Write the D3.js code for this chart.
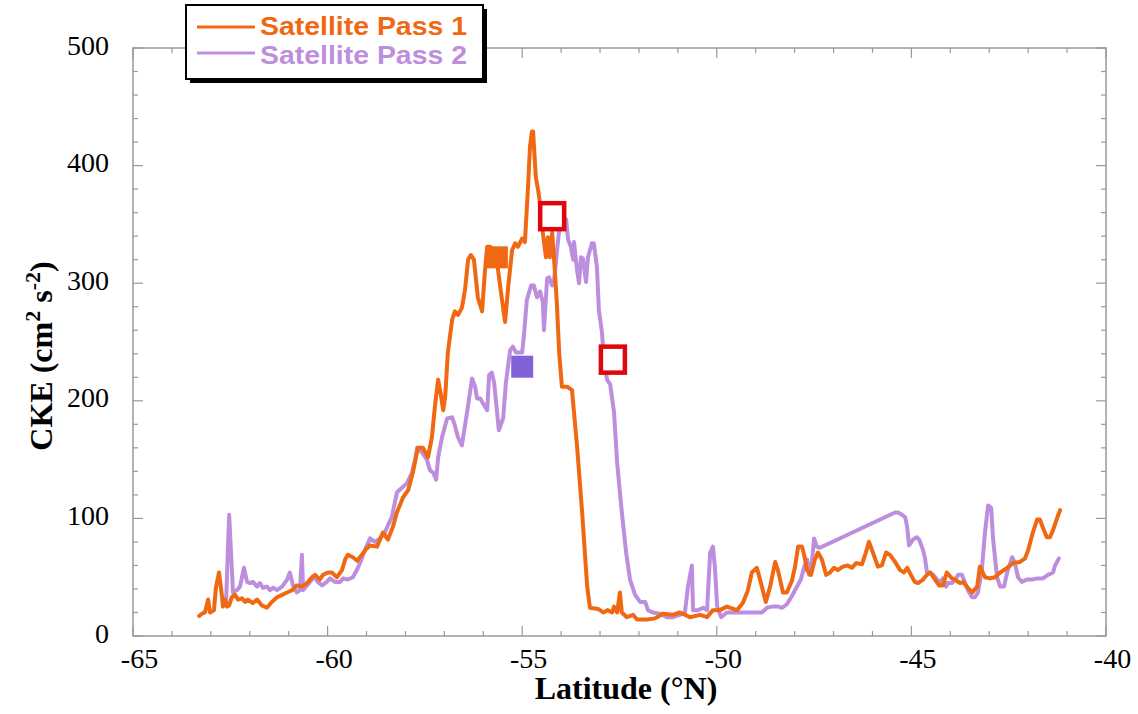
<!DOCTYPE html>
<html><head><meta charset="utf-8">
<script src="https://cdn.jsdelivr.net/npm/d3@7"></script>
<style>html,body{margin:0;padding:0;background:#fff;}svg{display:block;}</style>
</head><body>
<svg id="chart" width="1138" height="714"></svg>
<script>
// ---------- data ----------
const xTicks = [-65, -60, -55, -50, -45, -40];
const yTicks = [0, 100, 200, 300, 400, 500];
const seriesNames = ["Satellite Pass 1", "Satellite Pass 2"];

const pass1Lat = [-63.30,-63.23,-63.15,-63.07,-63.02,-62.92,-62.87,-62.79,-62.71,-62.69,-62.64,-62.58,-62.53,-62.46,-62.38,-62.30,-62.20,-62.12,-62.05,-61.92,-61.81,-61.69,-61.56,-61.43,-61.30,-61.17,-61.04,-60.91,-60.79,-60.66,-60.53,-60.40,-60.32,-60.20,-60.12,-59.99,-59.89,-59.76,-59.63,-59.55,-59.48,-59.35,-59.24,-59.12,-59.01,-58.91,-58.73,-58.58,-58.45,-58.32,-58.22,-58.06,-57.93,-57.81,-57.68,-57.55,-57.42,-57.32,-57.24,-57.16,-57.09,-57.03,-56.98,-56.91,-56.80,-56.73,-56.65,-56.55,-56.47,-56.39,-56.32,-56.24,-56.14,-56.03,-55.96,-55.90,-55.83,-55.70,-55.62,-55.52,-55.44,-55.36,-55.26,-55.18,-55.11,-55.00,-54.93,-54.85,-54.80,-54.75,-54.72,-54.65,-54.59,-54.49,-54.47,-54.39,-54.34,-54.29,-54.23,-54.18,-54.11,-54.05,-53.98,-53.85,-53.72,-53.59,-53.46,-53.33,-53.26,-53.05,-52.92,-52.80,-52.69,-52.64,-52.56,-52.49,-52.44,-52.31,-52.15,-52.05,-51.79,-51.59,-51.38,-51.13,-50.95,-50.69,-50.43,-50.25,-50.10,-49.92,-49.74,-49.48,-49.33,-49.20,-49.10,-48.97,-48.89,-48.74,-48.63,-48.50,-48.43,-48.30,-48.20,-48.07,-47.99,-47.91,-47.81,-47.73,-47.68,-47.58,-47.48,-47.40,-47.30,-47.19,-47.09,-46.99,-46.89,-46.76,-46.63,-46.53,-46.42,-46.27,-46.17,-46.09,-45.99,-45.86,-45.76,-45.65,-45.55,-45.42,-45.29,-45.19,-45.11,-44.98,-44.91,-44.83,-44.70,-44.60,-44.52,-44.39,-44.29,-44.19,-44.09,-43.96,-43.88,-43.75,-43.67,-43.55,-43.44,-43.31,-43.24,-43.11,-42.98,-42.85,-42.72,-42.54,-42.39,-42.21,-42.08,-42.00,-41.88,-41.77,-41.70,-41.62,-41.52,-41.44,-41.36,-41.26,-41.18];
const pass1CKE = [17,19,20,31,20,22,41,54,33,25,31,25,26,33,35,31,32,29,31,28,31,26,24,29,33,35,37,39,43,42,45,50,52,48,52,54,54,50,56,65,69,67,64,69,74,77,76,88,82,93,105,118,124,139,160,160,152,169,196,218,205,192,203,241,269,276,273,279,294,320,324,320,288,276,309,331,331,328,311,286,267,297,328,334,331,338,335,382,416,429,429,390,379,356,343,322,339,322,343,320,283,241,212,212,209,161,105,42,24,23,20,22,20,25,20,37,20,16,18,14,14,15,19,18,20,16,18,16,22,22,25,22,28,39,54,58,48,29,42,63,56,37,37,47,59,76,76,65,56,52,65,71,65,52,54,58,56,59,60,58,62,61,71,80,71,59,60,71,69,63,56,54,58,50,46,45,48,52,54,48,43,43,54,49,48,45,46,41,37,42,59,50,49,50,54,58,62,63,66,73,88,99,99,92,84,84,90,100,107];

const pass2Lat = [-62.61,-62.53,-62.43,-62.33,-62.25,-62.15,-62.07,-61.99,-61.92,-61.81,-61.74,-61.66,-61.56,-61.48,-61.40,-61.30,-61.17,-61.04,-60.97,-60.89,-60.79,-60.71,-60.66,-60.63,-60.53,-60.40,-60.32,-60.25,-60.14,-60.02,-59.94,-59.81,-59.68,-59.60,-59.48,-59.35,-59.22,-59.12,-59.04,-58.91,-58.78,-58.65,-58.53,-58.45,-58.35,-58.22,-58.09,-57.96,-57.83,-57.75,-57.70,-57.57,-57.45,-57.37,-57.29,-57.21,-57.16,-57.06,-56.93,-56.80,-56.73,-56.65,-56.55,-56.47,-56.39,-56.29,-56.21,-56.16,-56.08,-56.01,-55.90,-55.85,-55.78,-55.72,-55.65,-55.60,-55.49,-55.42,-55.31,-55.24,-55.16,-55.00,-54.95,-54.88,-54.77,-54.70,-54.62,-54.54,-54.47,-54.44,-54.36,-54.31,-54.23,-54.18,-54.11,-54.05,-53.95,-53.87,-53.82,-53.75,-53.69,-53.67,-53.59,-53.54,-53.49,-53.44,-53.36,-53.31,-53.21,-53.16,-53.08,-53.03,-52.95,-52.90,-52.82,-52.74,-52.64,-52.56,-52.44,-52.33,-52.23,-52.10,-51.97,-51.84,-51.77,-51.64,-51.46,-51.28,-51.13,-50.95,-50.82,-50.74,-50.64,-50.61,-50.48,-50.35,-50.25,-50.17,-50.10,-50.05,-49.99,-49.89,-49.74,-49.58,-49.40,-49.20,-49.02,-48.84,-48.71,-48.58,-48.43,-48.32,-48.20,-48.07,-47.94,-47.84,-47.76,-47.68,-47.63,-47.55,-47.50,-47.43,-47.35,-45.42,-45.34,-45.24,-45.16,-45.11,-45.06,-44.96,-44.86,-44.80,-44.70,-44.65,-44.60,-44.52,-44.44,-44.34,-44.26,-44.19,-44.11,-44.06,-43.96,-43.88,-43.80,-43.70,-43.62,-43.55,-43.44,-43.37,-43.29,-43.19,-43.11,-43.03,-42.95,-42.90,-42.80,-42.72,-42.62,-42.54,-42.41,-42.34,-42.26,-42.16,-42.03,-41.90,-41.77,-41.62,-41.49,-41.36,-41.31,-41.21];
const pass2CKE = [28,103,37,39,42,58,46,45,46,42,45,41,42,39,41,39,42,48,54,43,37,39,69,39,43,48,50,46,43,46,49,46,46,49,48,50,58,66,73,83,80,83,88,94,101,122,126,130,139,150,160,156,150,141,139,133,152,169,185,186,179,169,162,179,196,219,212,202,202,198,192,222,224,215,192,175,185,215,243,246,241,241,258,286,298,298,288,293,284,260,304,305,298,303,326,345,356,354,337,331,320,335,311,300,322,321,301,322,334,334,314,277,258,235,218,214,190,147,105,71,48,35,29,29,22,20,19,16,16,18,20,42,60,22,22,24,22,71,76,59,25,16,20,20,20,20,20,20,24,25,25,24,27,34,42,48,58,65,52,65,83,76,75,105,105,103,101,93,77,82,84,82,73,66,54,54,52,48,45,49,42,45,45,48,52,52,45,39,33,33,37,56,88,111,109,82,50,42,42,54,67,62,50,46,48,48,49,49,52,54,60,66];

// square markers: filled (one per pass) and open red ones
const filledLat = [-55.65, -55.00];
const filledCKE = [322, 229];
const filledColor = ["#f06812", "#8262d8"];
const openLat = [-54.23, -52.67];
const openCKE = [357, 235];

// ---------- layout ----------
const svg = d3.select("#chart");
const L = 133, R = 1106, T = 48, B = 636;
const x = d3.scaleLinear().domain([-65, -40]).range([L, R]);
const y = d3.scaleLinear().domain([0, 500]).range([B, T]);
const c1 = "#f06812", c2 = "#bd8edd", axisCol = "#999";

// frame
svg.append("rect").attr("x", L).attr("y", T).attr("width", R - L).attr("height", B - T)
  .attr("fill", "none").attr("stroke", axisCol).attr("stroke-width", 1.5);

const xMinor = d3.range(-65, -39.9, 1);
const yMinor = d3.range(0, 500.1, 20);
const tk = svg.append("g").attr("stroke", axisCol).attr("stroke-width", 1.2);
xMinor.forEach(v => {
  const len = (v % 5 === 0) ? 10 : 5;
  tk.append("line").attr("x1", x(v)).attr("x2", x(v)).attr("y1", B).attr("y2", B - len);
  tk.append("line").attr("x1", x(v)).attr("x2", x(v)).attr("y1", T).attr("y2", T + len);
});
yMinor.forEach(v => {
  const len = (v % 100 === 0) ? 10 : 5;
  tk.append("line").attr("y1", y(v)).attr("y2", y(v)).attr("x1", L).attr("x2", L + len);
  tk.append("line").attr("y1", y(v)).attr("y2", y(v)).attr("x1", R).attr("x2", R - len);
});

// tick labels through d3 axes (tick lines hidden)
const fmt = d => String(d);
const xAxis = svg.append("g").attr("transform", `translate(0,${B})`)
  .call(d3.axisBottom(x).tickValues(xTicks).tickSize(0).tickPadding(0).tickFormat(fmt));
xAxis.select(".domain").remove();
xAxis.selectAll("text").attr("dy", null).attr("y", 32).attr("dx", 6)
  .attr("font-family", "'Liberation Serif', 'Times New Roman', serif").attr("font-size", 28).attr("fill", "#000");

const yAxis = svg.append("g").attr("transform", `translate(${L},0)`)
  .call(d3.axisLeft(y).tickValues(yTicks).tickSize(0).tickPadding(0).tickFormat(fmt));
yAxis.select(".domain").remove();
yAxis.selectAll("text").attr("dy", null).attr("x", -24).attr("y", 6)
  .attr("font-family", "'Liberation Serif', 'Times New Roman', serif").attr("font-size", 28).attr("fill", "#000");

// axis titles
svg.append("text").attr("x", 626).attr("y", 699).attr("text-anchor", "middle")
  .attr("font-family", "'Liberation Serif', 'Times New Roman', serif").attr("font-weight", "bold")
  .attr("font-size", 32).text("Latitude (°N)");

const yt = svg.append("text").attr("transform", "translate(52,356) rotate(-90)").attr("text-anchor", "middle")
  .attr("font-family", "'Liberation Serif', 'Times New Roman', serif").attr("font-weight", "bold").attr("font-size", 32);
yt.append("tspan").text("CKE (cm");
yt.append("tspan").attr("dy", -12).attr("font-size", 22).text("2");
yt.append("tspan").attr("dy", 12).text(" s");
yt.append("tspan").attr("dy", -12).attr("font-size", 22).text("-2");
yt.append("tspan").attr("dy", 12).text(")");

// lines
const p1 = pass1Lat.map((d, i) => [d, pass1CKE[i]]);
const p2 = pass2Lat.map((d, i) => [d, pass2CKE[i]]);
const line = d3.line().x(d => x(d[0])).y(d => y(d[1]));
svg.append("path").datum(p2).attr("d", line).attr("fill", "none").attr("stroke", c2)
  .attr("stroke-width", 4).attr("stroke-linejoin", "round").attr("stroke-linecap", "round");
svg.append("path").datum(p1).attr("d", line).attr("fill", "none").attr("stroke", c1)
  .attr("stroke-width", 4).attr("stroke-linejoin", "round").attr("stroke-linecap", "round");

// markers
filledLat.forEach((d, i) => {
  svg.append("rect").attr("x", x(d) - 11).attr("y", y(filledCKE[i]) - 11).attr("width", 22).attr("height", 22)
    .attr("fill", filledColor[i]);
});
openLat.forEach((d, i) => {
  svg.append("rect").attr("x", x(d) - 12).attr("y", y(openCKE[i]) - 13).attr("width", 24).attr("height", 26)
    .attr("fill", "#fff").attr("stroke", "#e0060c").attr("stroke-width", 4.5);
});

// legend
const lg = svg.append("g");
lg.append("rect").attr("x", 190).attr("y", 9).attr("width", 297).attr("height", 74).attr("fill", "#000");
lg.append("rect").attr("x", 186).attr("y", 5).attr("width", 297).attr("height", 74)
  .attr("fill", "#fff").attr("stroke", "#000").attr("stroke-width", 2);
[c1, c2].forEach((c, i) => {
  lg.append("line").attr("x1", 197).attr("x2", 255).attr("y1", 27 + i * 26).attr("y2", 27 + i * 26)
    .attr("stroke", c).attr("stroke-width", 3);
  lg.append("text").attr("x", 260).attr("y", 35 + i * 29).attr("fill", c)
    .attr("font-family", "'Liberation Sans', Arial, sans-serif").attr("font-weight", "bold").attr("font-size", 25)
    .attr("textLength", 207).attr("lengthAdjust", "spacingAndGlyphs")
    .text(seriesNames[i]);
});
</script>
</body></html>
